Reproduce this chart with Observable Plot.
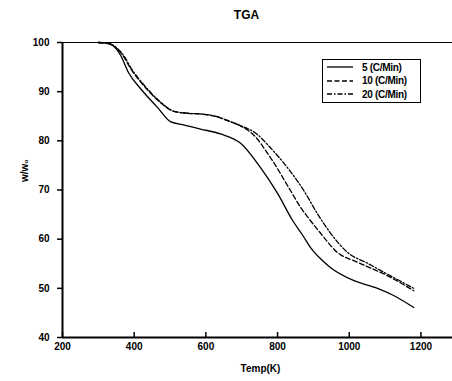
<!DOCTYPE html>
<html><head><meta charset="utf-8">
<script src="https://cdn.jsdelivr.net/npm/d3@7"></script>
<script src="https://cdn.jsdelivr.net/npm/@observablehq/plot@0.6"></script>
<style>
body{margin:0;background:#fff;font-family:"Liberation Sans",Arial,sans-serif;}
#wrap{position:relative;width:452px;height:381px;}
#legend{position:absolute;left:322px;top:59px;width:97px;height:42px;border:1.5px solid #000;background:#fff;font:bold 10px "Liberation Sans",Arial,sans-serif;letter-spacing:-0.3px;}
#legend div{position:absolute;left:4px;height:12px;display:flex;align-items:center;}
#legend svg{margin-right:9px;}
</style></head>
<body><div id="wrap"></div>
<script>
const xTicks = [200, 400, 600, 800, 1000, 1200];
const yTicks = [40, 50, 60, 70, 80, 90, 100];
const seriesNames = ["5 (C/Min)", "10 (C/Min)", "20 (C/Min)"];

const t5 = [300, 320, 340, 362, 384, 418, 465, 501, 540, 585, 641, 697, 752, 800, 842, 870, 892, 920, 948, 1012, 1079, 1125, 1180];
const v5 = [100, 99.9, 99.4, 97.4, 93.9, 90.6, 86.8, 83.9, 83.2, 82.4, 81.4, 79.5, 74.6, 69.3, 63.8, 60.8, 58.3, 56.0, 54.2, 51.6, 50.0, 48.5, 46.1];

const t10 = [300, 330, 348, 370, 390, 426, 473, 510, 550, 594, 630, 660, 697, 733, 780, 836, 864, 883, 920, 967, 1023, 1106, 1180];
const v10 = [100, 99.8, 99.0, 97.2, 94.7, 91.3, 87.8, 86.0, 85.6, 85.4, 84.9, 84.1, 83.0, 81.2, 76.6, 69.9, 66.5, 64.6, 61.2, 57.3, 55.3, 52.6, 49.5];

const t20 = [300, 330, 350, 372, 392, 428, 475, 512, 552, 596, 632, 662, 700, 740, 780, 827, 873, 911, 948, 995, 1051, 1106, 1180];
const v20 = [100, 99.8, 99.0, 97.2, 94.7, 91.3, 87.8, 86.0, 85.6, 85.4, 84.9, 84.1, 83.0, 81.5, 78.6, 74.6, 69.9, 65.2, 61.2, 57.3, 55.1, 52.9, 50.0];

const dashes = [null, "5,2.5", "5,2,1.5,2"];
const build = (t, v) => t.map((x, i) => ({x, y: v[i]}));
const sets = [build(t5, v5), build(t10, v10), build(t20, v20)];

const font = '"Liberation Sans", Arial, sans-serif';
const chart = Plot.plot({
  width: 452, height: 381,
  marginTop: 42, marginBottom: 44, marginLeft: 62, marginRight: 0,
  x: {domain: [200, 1288]},
  y: {domain: [40, 100]},
  style: {fontFamily: font, fontWeight: "bold", fontSize: "10px", color: "#000", background: "#fff", overflow: "visible"},
  marks: [
    Plot.ruleY([100], {stroke: "#000", strokeWidth: 1}),
    ...sets.map((d, i) => Plot.line(d, {x: "x", y: "y", stroke: "#000", strokeWidth: 1.3, curve: "monotone-x", strokeDasharray: dashes[i]})),
    Plot.ruleX([200], {stroke: "#000", strokeWidth: 2}),
    Plot.ruleY([40], {stroke: "#000", strokeWidth: 2}),
    Plot.axisX({ticks: xTicks, tickSize: -5, tickPadding: 10, tickFormat: d => String(d), label: null, stroke: "#000", strokeWidth: 1.5, fontSize: 10, letterSpacing: -0.3}),
    Plot.axisY({ticks: yTicks, tickSize: 5, tickPadding: 8, tickFormat: d => String(d), label: null, stroke: "#000", strokeWidth: 1.5, fontSize: 10, letterSpacing: -0.3}),
    Plot.text(["TGA"], {frameAnchor: "top", dy: -32, dx: -11, fontSize: 12, fontWeight: "bold"}),
    Plot.text(["Temp(K)"], {frameAnchor: "bottom", dy: 34, dx: 3, fontSize: 10, fontWeight: "bold", letterSpacing: -0.3}),
    Plot.text(["w/w\u2080"], {frameAnchor: "left", dx: -38, dy: -8, rotate: -90, fontSize: 10, fontWeight: "bold"})
  ]
});
const wrap = document.getElementById("wrap");
wrap.appendChild(chart);

const legend = document.createElement("div");
legend.id = "legend";
seriesNames.forEach((name, i) => {
  const row = document.createElement("div");
  row.style.top = (1 + i * 13.5) + "px";
  const da = dashes[i] ? ` stroke-dasharray="${dashes[i]}"` : "";
  row.innerHTML = `<svg width="26" height="6"><line x1="0" y1="3" x2="26" y2="3" stroke="#000" stroke-width="1.3"${da}/></svg><span>${name}</span>`;
  legend.appendChild(row);
});
wrap.appendChild(legend);
</script>
</body></html>
